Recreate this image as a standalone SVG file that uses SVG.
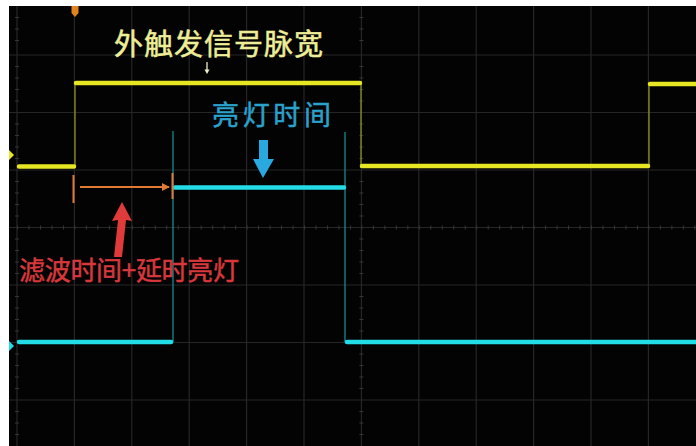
<svg xmlns="http://www.w3.org/2000/svg" width="696" height="446" viewBox="0 0 696 446">
<defs>
<style>
.grid{stroke:#262626;stroke-width:1.2;fill:none}
.tick{stroke:#363636;stroke-width:1;fill:none}
.yl{stroke:#e6e622;stroke-width:4.5;fill:none;stroke-linecap:round}
.yv{stroke:#9a9a22;stroke-width:1.2;fill:none}
.cl{stroke:#22dde6;stroke-width:4.5;fill:none;stroke-linecap:round}
.cv{stroke:#16949c;stroke-width:1.2;fill:none}
.or{stroke:#e07a35;stroke-width:2;fill:none}
.txt{font-family:"Noto Sans CJK SC","Noto Sans",sans-serif;stroke-width:0.5}
</style>
<marker id="oh" viewBox="0 0 10 10" refX="9" refY="5" markerWidth="4" markerHeight="4" orient="auto"><path d="M0,0 L10,5 L0,10 z" fill="#e07a35"/></marker>
<pattern id="tx" x="17" y="0" width="11.48" height="6" patternUnits="userSpaceOnUse"><line x1="0.5" y1="0" x2="0.5" y2="6" stroke="#363636"/></pattern>
</defs>
<rect x="0" y="0" width="696" height="446" fill="#ffffff"/>
<rect x="9" y="6" width="687" height="440" fill="#030303"/>
<g id="grid">
<path class="grid" d="M17,6V446M74.4,6V446M131.8,6V446M189.2,6V446M246.6,6V446M304,6V446M361.4,6V446M418.8,6V446M476.2,6V446M533.6,6V446M591,6V446M648.4,6V446"/>
<path class="grid" d="M9,55H696M9,112.5H696M9,170H696M9,227.5H696M9,285H696M9,342.5H696M9,400H696"/>
<path class="tick" d="M15,17.5h4M15,29h4M15,40.5h4M15,66.5h4M15,78h4M15,89.5h4M15,101h4M15,124h4M15,135.5h4M15,147h4M15,158.5h4M15,181.5h4M15,193h4M15,204.5h4M15,216h4M15,239h4M15,250.5h4M15,262h4M15,273.5h4M15,296.5h4M15,308h4M15,319.5h4M15,331h4M15,354h4M15,365.5h4M15,377h4M15,388.5h4M15,411.5h4M15,423h4M15,434.5h4"/>
<path class="tick" d="M359.4,17.5h4M359.4,29h4M359.4,40.5h4M359.4,66.5h4M359.4,78h4M359.4,89.5h4M359.4,101h4M359.4,124h4M359.4,135.5h4M359.4,147h4M359.4,158.5h4M359.4,181.5h4M359.4,193h4M359.4,204.5h4M359.4,216h4M359.4,239h4M359.4,250.5h4M359.4,262h4M359.4,273.5h4M359.4,296.5h4M359.4,308h4M359.4,319.5h4M359.4,331h4M359.4,354h4M359.4,365.5h4M359.4,377h4M359.4,388.5h4M359.4,411.5h4M359.4,423h4M359.4,434.5h4"/>
<rect x="17" y="225.5" width="679" height="4" fill="url(#tx)"/>
</g>
<g id="markers">
<path d="M71.5,6 H78.5 V13 L75,17 L71.5,13 Z" fill="#e0841e"/>
<path d="M9,150 L14,155 L9,160 Z" fill="#e6e622"/>
<path d="M9,341 L14,346 L9,351 Z" fill="#22dde6"/>
</g>
<g id="yellow-trace">
<path class="yv" d="M75,83V168M361,82V168M649,84V168"/>
<path class="yl" d="M19,166.5H74M76,83H360M362,166H648M650,84H696"/>
</g>
<g id="cyan-trace">
<path class="cv" d="M173,131V342M345,132V342"/>
<path class="cl" d="M19,342H171M175,187.5H344M347,342H696"/>
</g>
<g id="label-trigger">
<text class="txt" x="114" y="55" font-size="29" textLength="209" fill="#eeee99" stroke="#eeee99">外触发信号脉宽</text>
</g>
<g id="label-light">
<text class="txt" x="212" y="125" font-size="27" textLength="119" fill="#2aa2cc" stroke="#2aa2cc">亮灯时间</text>
</g>
<g id="label-delay">
<text class="txt" x="19" y="280" font-size="26" textLength="220" fill="#d8383c" stroke="#d8383c" stroke-width="0.7">滤波时间+延时亮灯</text>
</g>
<g id="connectors">
<path d="M207,62V72" stroke="#eeeecc" stroke-width="1.3" fill="none"/>
<path d="M204.5,69.5L207,74L209.5,69.5Z" fill="#eeeecc"/>
<path class="or" d="M73.5,175V203M172.5,173V199"/>
<path class="or" d="M80,187H169" marker-end="url(#oh)"/>
<path d="M122,202 L132,221 L126,220 L122,257 L114,257 L118,220 L112,221 Z" fill="#e03a3a"/>
<path d="M259,140 H268 V159 H274 L263,178 L253,159 H259 Z" fill="#2aa8e0"/>
</g>
</svg>
